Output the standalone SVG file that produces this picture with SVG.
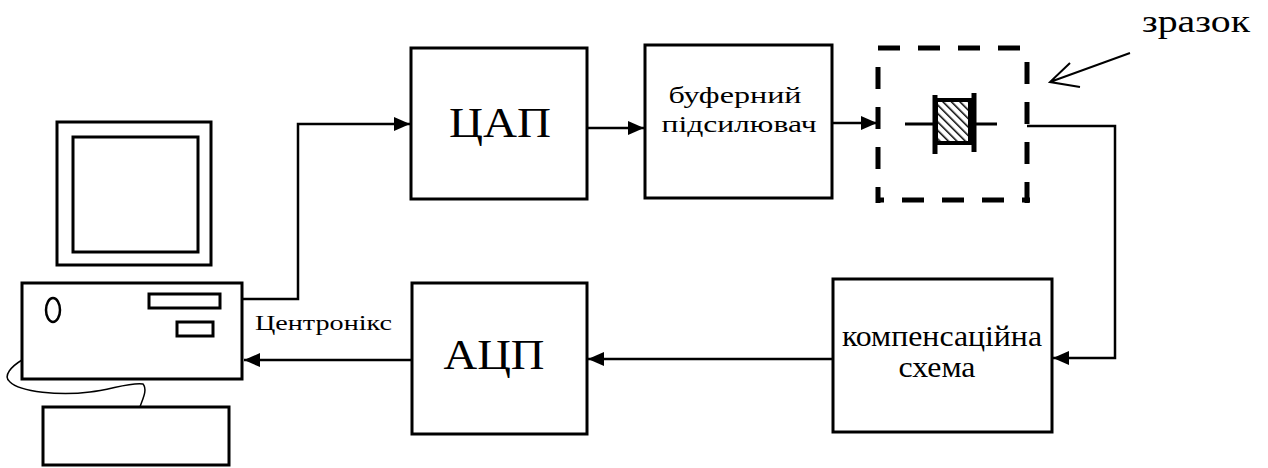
<svg xmlns="http://www.w3.org/2000/svg" width="1268" height="468" viewBox="0 0 1268 468">
  <style>
    .box { fill: #fff; stroke: #000; stroke-width: 3; }
    .wire { fill: none; stroke: #000; stroke-width: 2.5; }
    .dash { stroke: #000; stroke-width: 5; fill: none; stroke-dasharray: 22 18; }
    .lbl { font-family: 'Liberation Serif', 'DejaVu Serif', 'Times New Roman', serif; fill: #000; }
  </style>
  <defs>
    <marker id="arrow" viewBox="0 0 16 14" refX="16" refY="7" markerWidth="16" markerHeight="14" markerUnits="userSpaceOnUse" orient="auto">
      <path d="M0,0 L16,7 L0,14 Z" fill="#000"/>
    </marker>
    <pattern id="hatch" patternUnits="userSpaceOnUse" width="6" height="6" patternTransform="rotate(-45)">
      <rect width="6" height="6" fill="#fff"/>
      <line x1="0" y1="0" x2="0" y2="6" stroke="#000" stroke-width="3"/>
    </pattern>
  </defs>

  <!-- personal computer: monitor, system unit, keyboard -->
  <g id="pc">
    <rect class="box" x="57" y="122" width="154" height="143"/>
    <rect class="box" x="73" y="137" width="125" height="115"/>
    <rect class="box" x="22" y="283" width="220" height="96"/>
    <ellipse cx="53" cy="310" rx="7" ry="12" fill="none" stroke="#000" stroke-width="2.5"/>
    <rect class="box" x="149" y="294" width="71" height="14"/>
    <rect class="box" x="177" y="322" width="36" height="14"/>
    <rect class="box" x="43" y="407" width="186" height="58"/>
    <path d="M22,360 C12,366 2,376 10,382 C20,392 60,396 90,392 C110,390 130,382 143,384 C148,390 142,400 140,407" fill="none" stroke="#000" stroke-width="1.5"/>
  </g>

  <g id="dac">
    <rect class="box" x="411" y="48" width="176" height="151"/>
    <text class="lbl" x="500" y="137" font-size="43" text-anchor="middle" textLength="102" lengthAdjust="spacingAndGlyphs">ЦАП</text>
  </g>

  <g id="buffer">
    <rect class="box" x="645" y="45" width="187" height="153"/>
    <text class="lbl" x="735" y="103" font-size="24" text-anchor="middle" textLength="133" lengthAdjust="spacingAndGlyphs">буферний</text>
    <text class="lbl" x="739" y="132" font-size="24" text-anchor="middle" textLength="155" lengthAdjust="spacingAndGlyphs">підсилювач</text>
  </g>

  <!-- sample holder with the specimen -->
  <g id="sample">
    <line class="dash" x1="878" y1="48" x2="1030" y2="48"/>
    <line class="dash" x1="878" y1="200" x2="1030" y2="200" stroke-dashoffset="-24"/>
    <line class="dash" x1="878" y1="67" x2="878" y2="203"/>
    <line class="dash" x1="1027" y1="62" x2="1027" y2="203"/>
    <line x1="905" y1="124" x2="997" y2="124" stroke="#000" stroke-width="3"/>
    <rect x="936" y="100" width="34" height="43" fill="url(#hatch)" stroke="#000" stroke-width="4"/>
    <line x1="935" y1="95" x2="935" y2="154" stroke="#000" stroke-width="5"/>
    <line x1="974" y1="93" x2="974" y2="152" stroke="#000" stroke-width="5"/>
  </g>

  <g id="sample-label">
    <text class="lbl" x="1142" y="32" font-size="31" textLength="108" lengthAdjust="spacingAndGlyphs">зразок</text>
    <path d="M1130,53 L1050,82 M1070,63 L1050,82 L1080,87" fill="none" stroke="#000" stroke-width="2"/>
  </g>

  <g id="compensation">
    <rect class="box" x="833" y="279" width="219" height="153"/>
    <text class="lbl" x="942" y="346" font-size="29" text-anchor="middle" textLength="200" lengthAdjust="spacingAndGlyphs">компенсаційна</text>
    <text class="lbl" x="937" y="377" font-size="29" text-anchor="middle" textLength="77" lengthAdjust="spacingAndGlyphs">схема</text>
  </g>

  <g id="adc">
    <rect class="box" x="412" y="283" width="175" height="151"/>
    <text class="lbl" x="494" y="369" font-size="42" text-anchor="middle" textLength="101" lengthAdjust="spacingAndGlyphs">АЦП</text>
  </g>

  <g id="connectors">
    <path class="wire" d="M242,299 H298 V124 H410" marker-end="url(#arrow)"/>
    <path class="wire" d="M587,128 H644" marker-end="url(#arrow)"/>
    <path class="wire" d="M832,123 H877" marker-end="url(#arrow)"/>
    <path class="wire" d="M1027,126 H1115 V358 H1053" marker-end="url(#arrow)"/>
    <path class="wire" d="M833,359 H588" marker-end="url(#arrow)"/>
    <path class="wire" d="M412,360 H244" marker-end="url(#arrow)"/>
    <text class="lbl" x="255" y="330" font-size="21" textLength="137" lengthAdjust="spacingAndGlyphs">Центронікс</text>
  </g>
</svg>
